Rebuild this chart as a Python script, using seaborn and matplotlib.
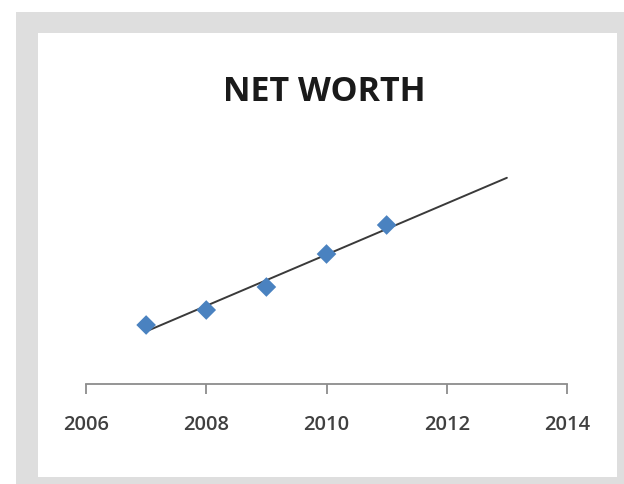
import matplotlib
matplotlib.use("Agg")
import matplotlib.pyplot as plt
from matplotlib.patches import Rectangle
import numpy as np
import pandas as pd
import seaborn as sns

# Net worth by year (arbitrary units)
years = [2007, 2008, 2009, 2010, 2011]
net_worth = [59, 74, 97, 130, 159]
x_ticks = [2006, 2008, 2010, 2012, 2014]
trend_years = [2007, 2013]

sns.set_theme(style="white")
plt.rcParams["font.family"] = ["Open Sans", "DejaVu Sans"]

W, H = 624, 484
fig = plt.figure(figsize=(W / 100, H / 100), dpi=100)
fig.patch.set_facecolor("white")

# grey frame and white card
fig.patches.append(Rectangle((16 / W, 0), 1 - 16 / W, 1 - 12 / H,
                             transform=fig.transFigure, facecolor="#dedede",
                             edgecolor="none", zorder=-2))
fig.patches.append(Rectangle((38 / W, 1 - 477 / H), (617 - 38) / W, (477 - 33) / H,
                             transform=fig.transFigure, facecolor="white",
                             edgecolor="none", zorder=-1))

ax = fig.add_axes([86 / W, 1 - 384 / H, (567 - 86) / W, (384 - 134) / H])
ax.set_facecolor("none")
ax.set_zorder(1)

df = pd.DataFrame({"year": years, "value": net_worth})

# linear trend line extended two years forward
slope, intercept = np.polyfit(years, net_worth, 1)
trend = pd.DataFrame({"year": trend_years,
                      "value": [slope * y + intercept for y in trend_years]})
sns.lineplot(data=trend, x="year", y="value", ax=ax, color="#3a3a3a",
             linewidth=1.4, zorder=2)

sns.scatterplot(data=df, x="year", y="value", ax=ax, marker="D", s=100,
                color="#4a82c0", edgecolor="none", zorder=3)

ax.set_xlim(2006, 2014)
ax.set_ylim(0, 250)
ax.set_xticks(x_ticks)
ax.set_xticklabels([str(t) for t in x_ticks], fontweight="semibold")
ax.set_yticks([])
ax.set_xlabel("")
ax.set_ylabel("")
for side in ["top", "right", "left"]:
    ax.spines[side].set_visible(False)
ax.spines["bottom"].set_color("#8c8c8c")
ax.spines["bottom"].set_linewidth(1.3)
ax.tick_params(axis="x", direction="out", length=7, width=1.3, color="#8c8c8c",
               labelsize=14.5, labelcolor="#404040", pad=15, bottom=True)

fig.text(324 / W, 1 - 92 / H, "NET WORTH", ha="center", va="center",
         fontsize=24.5, fontweight="bold", color="#1a1a1a")

fig.savefig("out.png", dpi=100, facecolor=fig.get_facecolor())
